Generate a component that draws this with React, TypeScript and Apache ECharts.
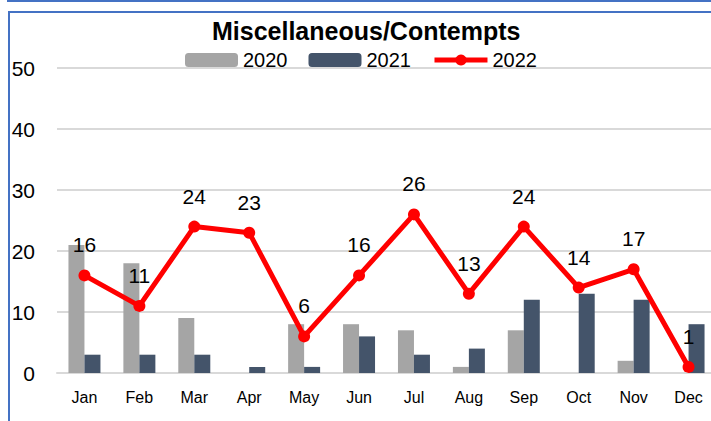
import React, { useEffect, useRef } from "react";
import * as echarts from "echarts";

const months = ["Jan", "Feb", "Mar", "Apr", "May", "Jun", "Jul", "Aug", "Sep", "Oct", "Nov", "Dec"];
const values2020 = [21, 18, 9, 0, 8, 8, 7, 1, 7, 0, 2, 0];
const values2021 = [3, 3, 3, 1, 1, 6, 3, 4, 12, 13, 12, 8];
const values2022 = [16, 11, 24, 23, 6, 16, 26, 13, 24, 14, 17, 1];
const yTicks = { min: 0, max: 50, interval: 10 };

const FONT = '"Liberation Sans", Arial, sans-serif';

export default function App() {
  const ref = useRef<HTMLDivElement>(null);
  useEffect(() => {
    if (!ref.current) return;
    const chart = echarts.init(ref.current, undefined, { renderer: "svg" });
    chart.setOption({
      animation: false,
      backgroundColor: "#ffffff",
      textStyle: { fontFamily: FONT },
      title: {
        text: "Miscellaneous/Contempts",
        left: 212,
        top: 18,
        padding: 0,
        textStyle: { fontFamily: FONT, fontSize: 25, fontWeight: "bold", color: "#000" },
      },
      legend: {
        left: 185,
        top: 50,
        padding: 0,
        itemWidth: 53,
        itemHeight: 14,
        itemGap: 21,
        textStyle: { fontFamily: FONT, fontSize: 20, color: "#000", padding: [0, 0, 0, 0] },
        data: [
          { name: "2020" },
          { name: "2021" },
          { name: "2022", lineStyle: { width: 5, color: "#FF0000" }, itemStyle: { color: "#FF0000" } },
        ],
      },
      graphic: [
        {
          type: "polyline",
          shape: { points: [[8, -5], [8, 1], [720, 1]] },
          style: { stroke: "#4472C4", lineWidth: 2, fill: "none" },
          silent: true,
        },
        {
          type: "polyline",
          shape: { points: [[9, 430], [9, 12], [720, 12]] },
          style: { stroke: "#4472C4", lineWidth: 2, fill: "none" },
          silent: true,
        },
      ],
      grid: { left: 57, right: 0, top: 68, bottom: 48, containLabel: false },
      xAxis: {
        type: "category",
        data: months,
        axisLine: { show: true, lineStyle: { color: "#D9D9D9", width: 2 } },
        axisTick: { show: false },
        axisLabel: { fontFamily: FONT, fontSize: 16, color: "#000", margin: 16 },
      },
      yAxis: {
        type: "value",
        min: yTicks.min,
        max: yTicks.max,
        interval: yTicks.interval,
        axisLine: { show: false },
        axisTick: { show: false },
        splitLine: { lineStyle: { color: "#D9D9D9", width: 2 } },
        axisLabel: { fontFamily: FONT, fontSize: 21, color: "#000", margin: 22 },
      },
      series: [
        {
          name: "2020",
          type: "bar",
          data: values2020,
          barWidth: 16,
          barGap: "0%",
          itemStyle: { color: "#A5A5A5" },
        },
        {
          name: "2021",
          type: "bar",
          data: values2021,
          barWidth: 16,
          itemStyle: { color: "#44546A" },
        },
        {
          name: "2022",
          type: "line",
          data: values2022,
          symbol: "circle",
          symbolSize: 12,
          lineStyle: { color: "#FF0000", width: 5 },
          itemStyle: { color: "#FF0000" },
          z: 3,
          label: {
            show: true,
            position: "top",
            distance: 14,
            fontFamily: FONT,
            fontSize: 21,
            color: "#000",
          },
        },
      ],
    });
    return () => chart.dispose();
  }, []);
  return (
    <div style={{ position: "fixed", left: 0, top: 0, width: 711, height: 421, overflow: "hidden", background: "#fff" }}>
      <div ref={ref} style={{ width: 716, height: 421 }} />
    </div>
  );
}
